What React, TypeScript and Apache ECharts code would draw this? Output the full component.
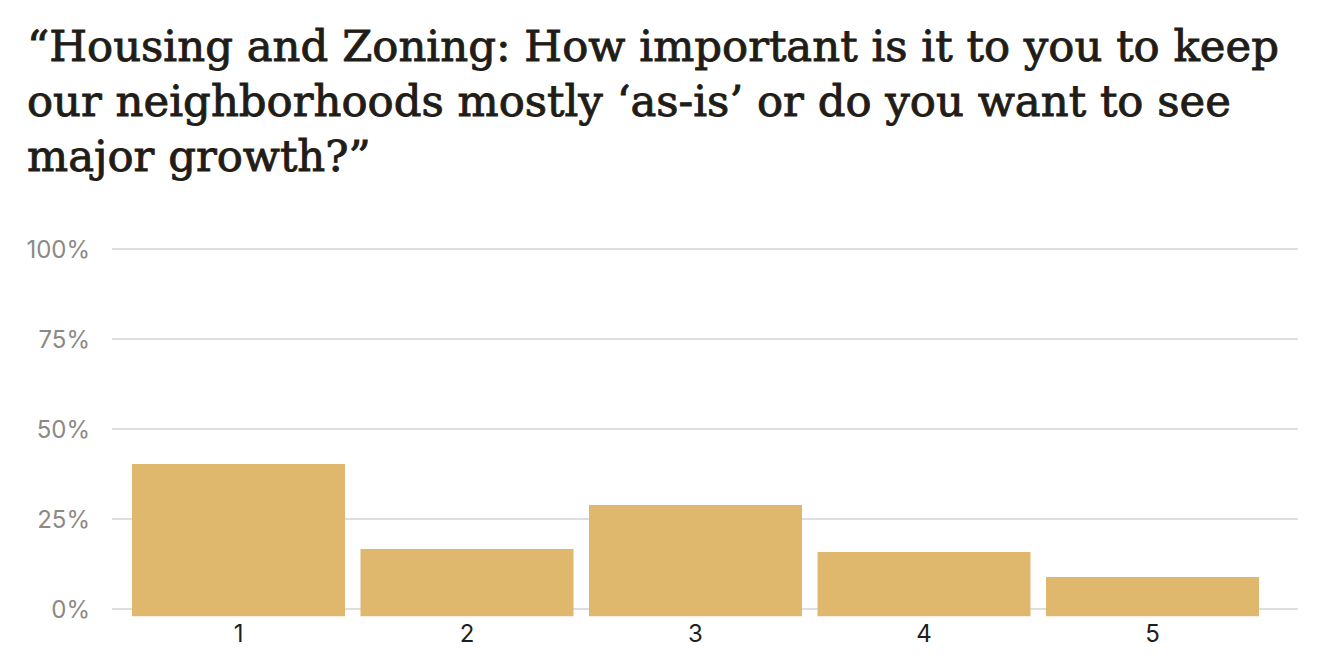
import React, { useEffect, useRef } from "react";
import * as echarts from "echarts";

// Survey answers on a 1–5 scale, share of respondents in percent
const categories: string[] = ["1", "2", "3", "4", "5"];
const shares: number[] = [40.3, 16.7, 28.9, 15.8, 8.9];

// Value-axis ticks
const yMin = 0;
const yMax = 100;
const yInterval = 25;

const titleLines: string[] = [
  "\u201CHousing and Zoning: How important is it to you to keep",
  "our neighborhoods mostly \u2018as-is\u2019 or do you want to see",
  "major growth?\u201D",
];

export default function App() {
  const ref = useRef<HTMLDivElement>(null);

  useEffect(() => {
    if (!ref.current) return;
    const chart = echarts.init(ref.current, undefined, { renderer: "svg" });
    chart.setOption({
      animation: false,
      backgroundColor: "#ffffff",
      title: {
        text: titleLines.join("\n"),
        left: 22,
        top: 13,
        textStyle: {
          fontFamily: "DejaVu Serif",
          fontSize: 43.4,
          fontWeight: "normal",
          color: "#221c17",
          lineHeight: 55,
          textBorderColor: "#221c17",
          textBorderWidth: 0.9,
        },
      },
      grid: [
        // percentage scale with gridlines
        { left: 112, right: 24, top: 249, height: 360 },
        // bars sit slightly below the zero line
        { left: 124.25, right: 55.25, top: 249, height: 367.2 },
      ],
      xAxis: [
        { gridIndex: 0, type: "category", data: categories, show: false },
        {
          gridIndex: 1,
          type: "category",
          data: categories,
          axisLine: { show: false },
          axisTick: { show: false },
          axisLabel: {
            color: "#1e1e1e",
            fontFamily: "Inter",
            fontSize: 24,
            margin: 5,
          },
        },
      ],
      yAxis: [
        {
          gridIndex: 0,
          type: "value",
          min: yMin,
          max: yMax,
          interval: yInterval,
          axisLine: { show: false },
          axisTick: { show: false },
          axisLabel: {
            formatter: "{value}%",
            color: "#8c8986",
            fontFamily: "Inter",
            fontSize: 24,
            margin: 22,
          },
          splitLine: { lineStyle: { color: "#dedede", width: 2 } },
        },
        {
          gridIndex: 1,
          type: "value",
          min: -2,
          max: yMax,
          startValue: -2,
          show: false,
          splitLine: { show: false },
        },
      ],
      series: [
        {
          type: "bar",
          xAxisIndex: 1,
          yAxisIndex: 1,
          data: shares,
          barWidth: 213,
          itemStyle: { color: "#dfb76d" },
        },
      ],
    });
    return () => chart.dispose();
  }, []);

  return (
    <div
      ref={ref}
      style={{ position: "fixed", left: 0, top: 0, width: 1322, height: 660 }}
    />
  );
}
